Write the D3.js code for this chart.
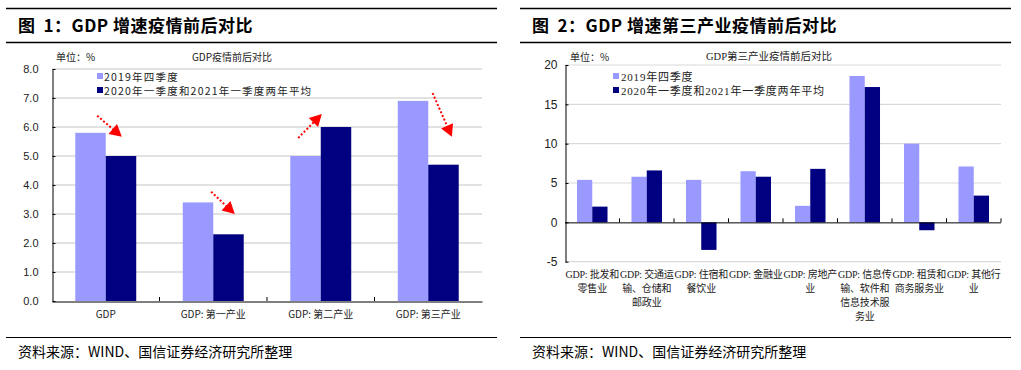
<!DOCTYPE html>
<html>
<head>
<meta charset="utf-8">
<script src="https://cdn.jsdelivr.net/npm/d3@7"></script>
<style>
  body { margin: 0; background: #fff; }
  svg { display: block; }
  .cjk { font-family: "Noto Sans CJK SC", sans-serif; }
</style>
</head>
<body>
<div class="chart"></div>
<script>
// Chart 1 data
var leftCategories = ["GDP", "GDP: 第一产业", "GDP: 第二产业", "GDP: 第三产业"];
var leftBefore = [5.8, 3.4, 5.0, 6.9];
var leftAfter = [5.0, 2.3, 6.0, 4.7];
var leftTicks = [0, 1, 2, 3, 4, 5, 6, 7, 8];
// arrows: [category index, start band fraction, start value, end band fraction, end value]
var leftArrows = [
  [0, 0.42, 6.39, 0.65, 5.66],
  [1, 0.48, 3.77, 0.70, 3.0],
  [2, 0.29, 5.62, 0.51, 6.45],
  [3, 0.54, 7.17, 0.72, 5.66]
];

// Chart 2 data
var rightCategories = [
  ["GDP: 批发和", "零售业"],
  ["GDP: 交通运", "输、仓储和", "邮政业"],
  ["GDP: 住宿和", "餐饮业"],
  ["GDP: 金融业"],
  ["GDP: 房地产", "业"],
  ["GDP: 信息传", "输、软件和", "信息技术服", "务业"],
  ["GDP: 租赁和", "商务服务业"],
  ["GDP: 其他行", "业"]
];
var rightBefore = [5.4, 5.8, 5.4, 6.5, 2.1, 18.6, 10.0, 7.1];
var rightAfter = [2.0, 6.6, -3.5, 5.8, 6.8, 17.2, -1.0, 3.4];
var rightTicks = [-5, 0, 5, 10, 15, 20];

var seriesNames = ["2019年四季度", "2020年一季度和2021年一季度两年平均"];
var lightColor = "#9999ff";
var darkColor = "#000080";

var svg = d3.select(".chart").append("svg")
  .attr("width", 1021)
  .attr("height", 370);

// Panel frames: header lines, titles, source lines
function drawFrame(x0, x1, fig, title) {
  svg.append("line").attr("x1", x0).attr("x2", x1).attr("y1", 8.5).attr("y2", 8.5)
    .attr("stroke", "#000").attr("stroke-width", 1.4);
  svg.append("line").attr("x1", x0).attr("x2", x1).attr("y1", 42.5).attr("y2", 42.5)
    .attr("stroke", "#000").attr("stroke-width", 1.4);
  var t = svg.append("text").attr("class", "cjk")
    .attr("x", x0 + 12).attr("y", 32)
    .attr("font-size", "17px").attr("font-weight", "bold")
    .attr("letter-spacing", "0.5px");
  t.append("tspan").text("图");
  t.append("tspan").attr("dx", 8).text(fig + "：" + title);
  svg.append("line").attr("x1", x0).attr("x2", x1).attr("y1", 337.5).attr("y2", 337.5)
    .attr("stroke", "#000").attr("stroke-width", 1.2);
  svg.append("text").attr("class", "cjk")
    .attr("x", x0 + 12).attr("y", 357)
    .attr("font-size", "14px")
    .text("资料来源：WIND、国信证券经济研究所整理");
}
drawFrame(6, 497, "1", "GDP 增速疫情前后对比");
drawFrame(520, 1011, "2", "GDP 增速第三产业疫情前后对比");

// ---------- Chart 1 ----------
var left = { x0: 52, x1: 482, top: 69, bottom: 301 };

var x1Scale = d3.scaleBand()
  .domain(leftCategories)
  .range([left.x0, left.x1]);
var inner1 = d3.scaleBand()
  .domain([0, 1])
  .range([0, x1Scale.bandwidth() * 0.567]);
var y1Scale = d3.scaleLinear()
  .domain([0, 8])
  .range([left.bottom, left.top]);

var g1 = svg.append("g");

// gridlines
g1.selectAll(".grid1")
  .data(leftTicks.filter(d => d > 0))
  .enter()
  .append("line")
  .attr("x1", left.x0).attr("x2", left.x1)
  .attr("y1", d => y1Scale(d)).attr("y2", d => y1Scale(d))
  .attr("stroke", "#d9d9d9").attr("stroke-width", 1.5);

var off1 = (x1Scale.bandwidth() - inner1.range()[1]) / 2;
leftCategories.forEach(function(cat, i) {
  [leftBefore[i], leftAfter[i]].forEach(function(v, j) {
    g1.append("rect")
      .attr("x", x1Scale(cat) + off1 + inner1(j))
      .attr("y", y1Scale(v))
      .attr("width", inner1.bandwidth())
      .attr("height", y1Scale(0) - y1Scale(v))
      .attr("fill", j === 0 ? lightColor : darkColor);
  });
});

// y axis
var leftAxis1 = d3.axisLeft(y1Scale)
  .tickValues(leftTicks)
  .tickFormat(d3.format(".1f"))
  .tickSizeInner(-3)
  .tickSizeOuter(0)
  .tickPadding(14);
var yAxis1 = g1.append("g")
  .attr("transform", `translate(${left.x0 + 0.5}, 0)`)
  .call(leftAxis1);
yAxis1.selectAll("text")
  .attr("font-family", "Liberation Sans, sans-serif")
  .attr("font-size", "11px")
  .attr("fill", "#222");

// x axis
var bottomAxis1 = d3.axisBottom(x1Scale).tickSize(0).tickPadding(9);
var xAxis1 = g1.append("g")
  .attr("transform", `translate(0, ${left.bottom + 0.5})`)
  .call(bottomAxis1);
xAxis1.selectAll("text")
  .attr("class", "cjk")
  .attr("font-size", "10px")
  .attr("fill", "#222");
g1.selectAll(".sep1")
  .data(leftCategories.slice(1))
  .enter()
  .append("line")
  .attr("x1", d => x1Scale(d)).attr("x2", d => x1Scale(d))
  .attr("y1", left.bottom).attr("y2", left.bottom - 4)
  .attr("stroke", "#000");
g1.selectAll(".domain").attr("stroke", "#000");

// red dotted arrows
leftArrows.forEach(function(a) {
  var bx = x1Scale(leftCategories[a[0]]);
  var bw = x1Scale.bandwidth();
  var xs = bx + bw * a[1], ys = y1Scale(a[2]);
  var xe = bx + bw * a[3], ye = y1Scale(a[4]);
  var len = Math.hypot(xe - xs, ye - ys);
  var ux = (xe - xs) / len, uy = (ye - ys) / len;
  g1.append("line")
    .attr("x1", xs).attr("y1", ys)
    .attr("x2", xe - ux * 10).attr("y2", ye - uy * 10)
    .attr("stroke", "#ff0000")
    .attr("stroke-width", 2)
    .attr("stroke-dasharray", "2,2");
  g1.append("path")
    .attr("d", `M${xe},${ye} L${xe - ux * 12 - uy * 6.5},${ye - uy * 12 + ux * 6.5} L${xe - ux * 12 + uy * 6.5},${ye - uy * 12 - ux * 6.5} Z`)
    .attr("fill", "#ff0000");
});

// labels
g1.append("text").attr("class", "cjk")
  .attr("x", 56).attr("y", 61)
  .attr("font-size", "10px").attr("fill", "#222")
  .text("单位：%");
g1.append("text").attr("class", "cjk")
  .attr("x", 232).attr("y", 61)
  .attr("text-anchor", "middle")
  .attr("font-size", "10px").attr("fill", "#222")
  .text("GDP疫情前后对比");

// legend
seriesNames.forEach(function(name, i) {
  g1.append("rect")
    .attr("x", 97).attr("y", 73 + i * 14)
    .attr("width", 6).attr("height", 6)
    .attr("fill", i === 0 ? lightColor : darkColor);
  g1.append("text").attr("class", "cjk")
    .attr("x", 104).attr("y", 81 + i * 14)
    .attr("font-size", "10.5px")
    .attr("letter-spacing", "1.2px")
    .attr("fill", "#222")
    .text(name);
});

// ---------- Chart 2 ----------
var right = { x0: 565, x1: 1001, top: 65, bottom: 261.7 };

var x2Scale = d3.scaleBand()
  .domain(d3.range(rightCategories.length))
  .range([right.x0, right.x1]);
var inner2 = d3.scaleBand()
  .domain([0, 1])
  .range([0, x2Scale.bandwidth() * 0.56]);
var y2Scale = d3.scaleLinear()
  .domain([-5, 20])
  .range([right.bottom, right.top]);

var g2 = svg.append("g");

g2.selectAll(".grid2")
  .data(rightTicks.filter(d => d !== 0))
  .enter()
  .append("line")
  .attr("x1", right.x0).attr("x2", right.x1)
  .attr("y1", d => y2Scale(d)).attr("y2", d => y2Scale(d))
  .attr("stroke", "#d9d9d9").attr("stroke-width", 1.2);

var off2 = (x2Scale.bandwidth() - inner2.range()[1]) / 2;
rightCategories.forEach(function(cat, i) {
  [rightBefore[i], rightAfter[i]].forEach(function(v, j) {
    g2.append("rect")
      .attr("x", x2Scale(i) + off2 + inner2(j))
      .attr("y", y2Scale(Math.max(0, v)))
      .attr("width", inner2.bandwidth())
      .attr("height", Math.abs(y2Scale(v) - y2Scale(0)))
      .attr("fill", j === 0 ? lightColor : darkColor);
  });
});

var leftAxis2 = d3.axisLeft(y2Scale)
  .tickValues(rightTicks)
  .tickFormat(d => d < 0 ? "-" + Math.abs(d) : d)
  .tickSizeInner(-3)
  .tickSizeOuter(0)
  .tickPadding(8);
var yAxis2 = g2.append("g")
  .attr("transform", `translate(${right.x0 + 0.5}, 0)`)
  .call(leftAxis2);
yAxis2.selectAll("text")
  .attr("font-family", "Liberation Sans, sans-serif")
  .attr("font-size", "12px")
  .attr("fill", "#222");

// zero line with category separators
g2.append("line")
  .attr("x1", right.x0).attr("x2", right.x1)
  .attr("y1", y2Scale(0) + 0.5).attr("y2", y2Scale(0) + 0.5)
  .attr("stroke", "#000");
g2.selectAll(".sep2")
  .data(d3.range(1, rightCategories.length + 1))
  .enter()
  .append("line")
  .attr("x1", d => right.x0 + d * x2Scale.step())
  .attr("x2", d => right.x0 + d * x2Scale.step())
  .attr("y1", y2Scale(0)).attr("y2", y2Scale(0) - 4)
  .attr("stroke", "#000");
g2.selectAll(".domain").attr("stroke", "#000");

// multi-line category labels
rightCategories.forEach(function(lines, i) {
  var t = g2.append("text")
    .attr("font-family", "Liberation Serif, Noto Sans CJK SC, serif")
    .attr("font-size", "10px")
    .attr("letter-spacing", "-0.2px")
    .attr("fill", "#222")
    .attr("text-anchor", "middle");
  lines.forEach(function(line, k) {
    t.append("tspan")
      .attr("x", x2Scale(i) + x2Scale.bandwidth() / 2)
      .attr("y", 278 + k * 14)
      .text(line);
  });
});

g2.append("text").attr("class", "cjk")
  .attr("x", 570).attr("y", 61)
  .attr("font-size", "10px").attr("fill", "#222")
  .text("单位：%");
g2.append("text")
  .attr("font-family", "Liberation Serif, Noto Sans CJK SC, serif")
  .attr("x", 769).attr("y", 60)
  .attr("text-anchor", "middle")
  .attr("font-size", "10.5px").attr("fill", "#222")
  .text("GDP第三产业疫情前后对比");

seriesNames.forEach(function(name, i) {
  g2.append("rect")
    .attr("x", 613).attr("y", 73 + i * 14)
    .attr("width", 6).attr("height", 6)
    .attr("fill", i === 0 ? lightColor : darkColor);
  g2.append("text")
    .attr("font-family", "Liberation Serif, Noto Sans CJK SC, serif")
    .attr("x", 621).attr("y", 81 + i * 14)
    .attr("font-size", "11px")
    .attr("letter-spacing", "0.8px")
    .attr("fill", "#222")
    .text(name);
});
</script>
</body>
</html>
